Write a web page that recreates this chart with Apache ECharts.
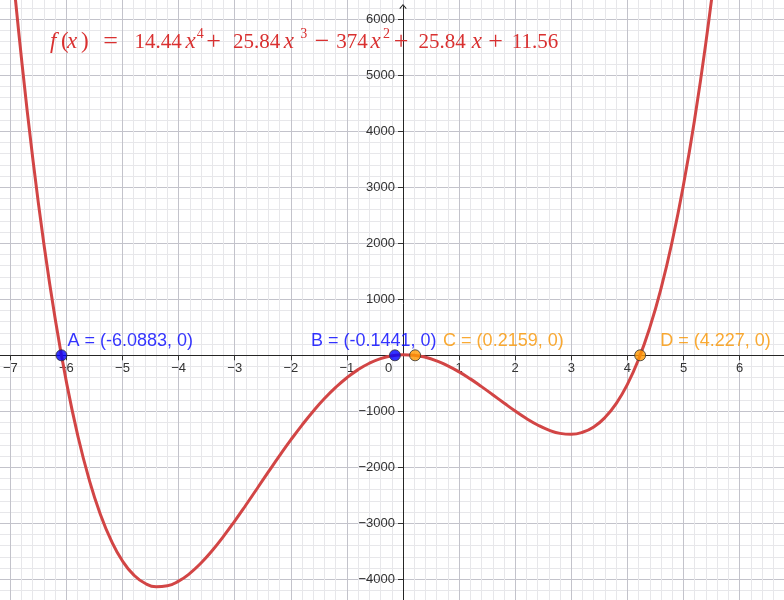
<!DOCTYPE html>
<html>
<head>
<meta charset="utf-8">
<script src="https://cdn.jsdelivr.net/npm/echarts@6/dist/echarts.min.js"></script>
<style>
  html, body { margin: 0; padding: 0; background: #ffffff; }
  #chart { width: 784px; height: 600px; }
</style>
</head>
<body>
<div id="chart"></div>
<script>
// ---- data ----
const curveX = [-7.0, -6.8, -6.6, -6.4, -6.2, -6.0, -5.8, -5.6, -5.4, -5.2, -5.0, -4.8, -4.6, -4.4, -4.2, -4.0,
  -3.8, -3.6, -3.4, -3.2, -3.0, -2.8, -2.6, -2.4, -2.2, -2.0, -1.8, -1.6, -1.4, -1.2, -1.0, -0.8, -0.6, -0.4, -0.2,
  0.0, 0.2, 0.4, 0.6, 0.8, 1.0, 1.2, 1.4, 1.6, 1.8, 2.0, 2.2, 2.4, 2.6, 2.8, 3.0, 3.2, 3.4, 3.6, 3.8, 4.0,
  4.2, 4.4, 4.6, 4.8, 5.0, 5.2, 5.4, 5.6];
const curveY = [7312, 5292, 3520, 1980, 654, -475, -1420, -2199, -2824, -3311, -3673, -3922, -4071, -4132, -4116, -4033,
  -3894, -3709, -3486, -3233, -2960, -2673, -2378, -2083, -1792, -1512, -1246, -998, -773, -573, -400, -256, -142, -60, -9,
  12, 2, -36, -100, -188, -296, -421, -559, -704, -851, -995, -1128, -1244, -1335, -1394, -1410, -1375, -1279, -1112, -862, -519,
  -70, 498, 1197, 2042, 3046, 4224, 5593, 7167];
const rootNames = ['A', 'B', 'C', 'D'];
const rootX = [-6.0883, -0.1441, 0.2159, 4.227];
const rootXText = ['-6.0883', '-0.1441', '0.2159', '4.227'];
const rootY = [0, 0, 0, 0];
const formulaCoef = ['14.44', '25.84', '374', '25.84', '11.56'];

// ---- styles ----
const BLUE = '#0000ff', ORANGE = '#ff9900', CURVE = '#d24545', TEXTRED = '#d93030';
const pointColors = [BLUE, BLUE, ORANGE, ORANGE];
const labelColors = ['#0000ff', '#0000ff', '#f99500', '#f99500'];
const labelDx = [6, -84, 28, 20];

const minus = s => String(s).replace('-', '\u2212');

const curveData = curveX.map((x, i) => [x, curveY[i]]);
const pointData = rootNames.map((n, i) => ({
  value: [rootX[i], rootY[i]],
  name: n,
  itemStyle: { color: pointColors[i], borderColor: '#333', borderWidth: 1 },
  label: {
    show: true,
    formatter: n + ' = (' + rootXText[i] + ', ' + rootY[i] + ')',
    position: 'inside',
    align: 'left',
    verticalAlign: 'middle',
    offset: [labelDx[i], -14.6],
    color: labelColors[i],
    fontFamily: 'Liberation Sans',
    fontWeight: 'normal',
    fontSize: 18
  }
}));

// formula layout: text, kind, start px (s) or centre px (c) with half width (h)
// kinds: n number, i italic variable, p parenthesis, o operator, s superscript
const formulaLayout = [
  { t: 'f', k: 'i', s: 50 }, { t: '(', k: 'p', s: 61 }, { t: 'x', k: 'i', s: 67 }, { t: ')', k: 'p', s: 81 },
  { t: '=', k: 'o', c: 110.5, h: 12 },
  { t: formulaCoef[0], k: 'n', s: 132 }, { t: 'x', k: 'i', s: 184 }, { t: '4', k: 's', s: 197 },
  { t: '+', k: 'o', c: 213.5, h: 10 },
  { t: formulaCoef[1], k: 'n', s: 231 }, { t: 'x', k: 'i', s: 282 }, { t: '3', k: 's', s: 295.5 },
  { t: '\u2212', k: 'o', c: 322, h: 10 },
  { t: formulaCoef[2], k: 'n', s: 335 }, { t: 'x', k: 'i', s: 369 }, { t: '2', k: 's', s: 382 },
  { t: '+', k: 'o', c: 401, h: 10 },
  { t: formulaCoef[3], k: 'n', s: 416 }, { t: 'x', k: 'i', s: 468 },
  { t: '+', k: 'o', c: 495.5, h: 10 },
  { t: formulaCoef[4], k: 'n', s: 509, w: 52 }
];
const serif = { fontFamily: 'Liberation Serif', fontWeight: 'normal', lineHeight: 30, color: TEXTRED };
const kindStyle = {
  n: Object.assign({}, serif, { fontSize: 21 }),
  i: Object.assign({}, serif, { fontSize: 23, fontStyle: 'italic' }),
  p: Object.assign({}, serif, { fontSize: 23 }),
  o: Object.assign({}, serif, { fontSize: 26 }),
  s: Object.assign({}, serif, { fontSize: 14, lineHeight: 14, verticalAlign: 'top' })
};
const formulaRich = {};
let formulaText = '';
{
  const cells = formulaLayout.map(o => o.c != null ? { t: o.t, k: o.k, s: o.c - o.h, w: 2 * o.h, a: 'center' } : { t: o.t, k: o.k, s: o.s, w: o.w, a: 'left' });
  cells.forEach((c, i) => { if (c.w == null) c.w = cells[i + 1].s - c.s; });
  let cursor = cells[0].s, n = 0;
  cells.forEach(c => {
    if (c.s > cursor + 0.01) {
      formulaRich['g' + n] = Object.assign({}, kindStyle.n, { width: c.s - cursor });
      formulaText += '{g' + n + '| }';
      n++;
    }
    formulaRich['g' + n] = Object.assign({}, kindStyle[c.k], { width: c.w, align: c.a });
    formulaText += '{g' + n + '|' + c.t + '}';
    n++;
    cursor = c.s + c.w;
  });
}
const formulaLeft = formulaLayout[0].s;

// pixel frame: x=0 at 403px, 56.1 px/unit; y=0 at 355.3px, 0.056 px/unit
const L = -45.8, R = -11.7, T = -36.7, B = -35.3, ZERO_X = 403, ZERO_Y_FROM_BOTTOM = 244.7;
const axisText = { color: '#333', fontFamily: 'Liberation Sans', fontSize: 13 };
const hiddenAxis = (gi) => ({ type: 'value', gridIndex: gi, min: 0, max: 1, show: false });
const gridBase = { containLabel: false, outerBoundsMode: 'none' };

const option = {
  animation: false,
  backgroundColor: '#ffffff',
  title: {
    text: formulaText,
    left: formulaLeft,
    top: 27,
    padding: 0,
    textStyle: { fontWeight: 'normal', rich: formulaRich }
  },
  grid: [
    Object.assign({ left: L, right: R, top: T, bottom: B }, gridBase),               // 0: plot + grid lines
    Object.assign({ left: L, right: R, top: T, bottom: ZERO_Y_FROM_BOTTOM }, gridBase), // 1: x axis at y=0
    Object.assign({ left: ZERO_X, right: R, top: T, bottom: B }, gridBase),          // 2: y labels at x=0
    Object.assign({ left: ZERO_X, right: R, top: 6.5, bottom: B }, gridBase)         // 3: y axis line with arrow
  ],
  xAxis: [
    {
      type: 'value', gridIndex: 0, min: -8, max: 7, interval: 1,
      axisLine: { show: false }, axisTick: { show: false }, axisLabel: { show: false },
      minorTick: { show: false, splitNumber: 5 },
      splitLine: { show: true, lineStyle: { color: '#c3c3cb', width: 1 } },
      minorSplitLine: { show: true, lineStyle: { color: '#e7e7ea', width: 1 } }
    },
    {
      type: 'value', gridIndex: 1, min: -8, max: 7, interval: 1, position: 'bottom',
      axisLine: { show: true, onZero: false, lineStyle: { color: '#252525', width: 1 } },
      axisTick: { show: true, length: 5, lineStyle: { color: '#333' } },
      splitLine: { show: false },
      axisLabel: Object.assign({}, axisText, {
        margin: 7,
        formatter: v => v === 0 ? '{o|0}' : minus(v),
        rich: { o: Object.assign({}, axisText, { padding: [0, 29, 0, 0] }) }
      })
    },
    hiddenAxis(2),
    hiddenAxis(3)
  ],
  yAxis: [
    {
      type: 'value', gridIndex: 0, min: -5000, max: 7000, interval: 1000,
      axisLine: { show: false }, axisTick: { show: false }, axisLabel: { show: false },
      minorTick: { show: false, splitNumber: 5 },
      splitLine: { show: true, lineStyle: { color: '#c3c3cb', width: 1 } },
      minorSplitLine: { show: true, lineStyle: { color: '#e7e7ea', width: 1 } }
    },
    hiddenAxis(1),
    {
      type: 'value', gridIndex: 2, min: -5000, max: 7000, interval: 1000, position: 'left',
      axisLine: { show: false, onZero: false },
      axisTick: { show: true, length: 5, lineStyle: { color: '#333' } },
      splitLine: { show: false },
      axisLabel: Object.assign({}, axisText, {
        margin: 8,
        formatter: v => v === 0 ? '' : minus(v)
      })
    },
    {
      type: 'value', gridIndex: 3, min: 0, max: 1, position: 'left',
      axisLine: {
        show: true, onZero: false,
        lineStyle: { color: '#252525', width: 1 },
        symbol: ['none', 'path://M0,6 L5,0 L10,6 L9,6.9 L5,2 L1,6.9 Z'],
        symbolSize: [9, 5]
      },
      axisTick: { show: false },
      axisLabel: { show: false },
      splitLine: { show: false }
    }
  ],
  series: [
    {
      type: 'line',
      xAxisIndex: 0, yAxisIndex: 0,
      data: curveData,
      smooth: true,
      showSymbol: false,
      clip: true,
      lineStyle: { color: CURVE, width: 3 },
      z: 3
    },
    {
      type: 'scatter',
      xAxisIndex: 0, yAxisIndex: 0,
      data: pointData,
      symbol: 'circle',
      symbolSize: 11,
      z: 4
    }
  ]
};

const chart = echarts.init(document.getElementById('chart'), null, { renderer: 'canvas' });
chart.setOption(option);
</script>
</body>
</html>
